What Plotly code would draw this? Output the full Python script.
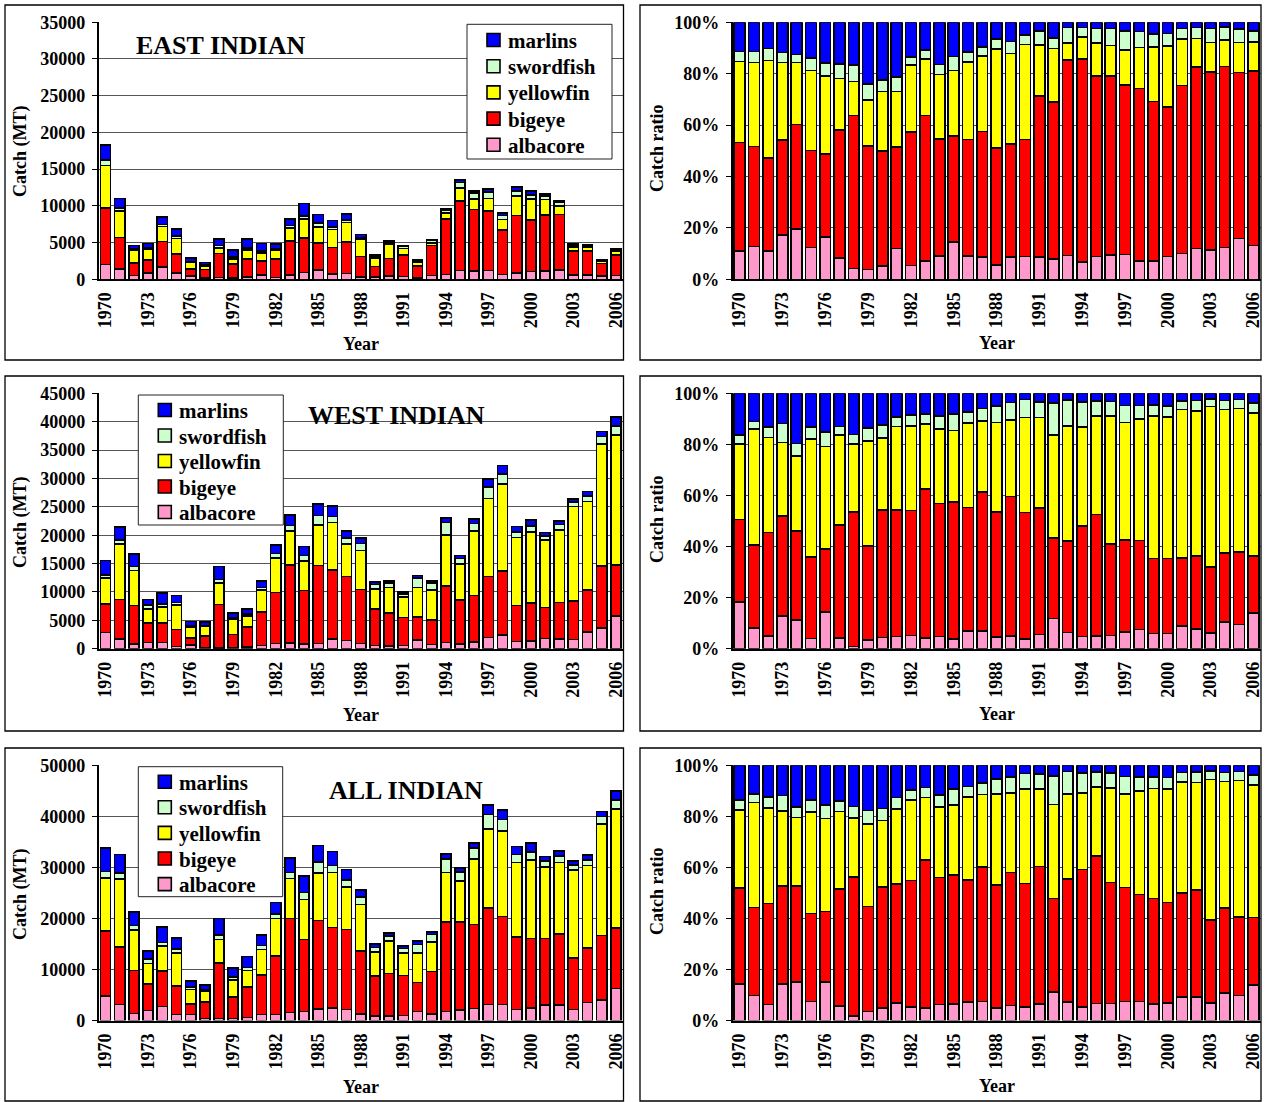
import numpy as np
import plotly.graph_objects as go

# ---------------------------------------------------------------- data (MT)
YEARS = list(range(1970, 2007))
YEAR_TICKS = list(range(1970, 2007, 3))

EAST_ALBACORE = [2010, 1400, 510, 850, 1660, 840, 480, 190, 230, 150, 290, 590, 260, 580, 930, 1280, 720, 780, 340,
                 290, 460, 400, 210, 500, 640, 1190, 1130, 1180, 650, 890, 1060, 1160, 1280, 550, 580, 420, 540]
EAST_BIGEYE = [7720, 4280, 1670, 1800, 3470, 2570, 940, 1140, 3270, 1930, 2450, 1930, 2480, 4640, 4700, 3630, 3630,
               4330, 2770, 1450, 2370, 2880, 1620, 4100, 7570, 9490, 8360, 8110, 6030, 7820, 6980, 7600, 7520, 3330,
               3300, 1710, 2790]
EAST_YELLOWFIN = [5760, 3590, 1740, 1480, 2050, 2120, 880, 460, 730, 720, 1280, 1060, 1250, 1800, 2590, 2250, 2420,
                  2620, 2340, 1160, 1920, 910, 550, 360, 820, 1710, 1430, 1690, 1440, 2670, 2860, 2080, 1180, 550,
                  490, 310, 460]
EAST_SWORDFISH = [730, 470, 220, 190, 260, 330, 150, 130, 360, 250, 240, 280, 150, 300, 400, 470, 310, 310, 240, 150,
                  190, 250, 110, 330, 360, 780, 790, 900, 550, 640, 580, 490, 450, 260, 230, 140, 180]
EAST_MARLINS = [2070, 1260, 470, 580, 1070, 950, 460, 370, 910, 960, 1240, 1040, 650, 880, 1690, 1180, 920, 850, 400,
                250, 260, 160, 160, 110, 200, 320, 290, 430, 330, 570, 530, 280, 220, 120, 90, 70, 140]

WEST_ALBACORE = [2840, 1760, 840, 1110, 1090, 370, 690, 200, 130, 210, 310, 570, 950, 1010, 850, 940, 1710, 1410, 900,
                 590, 460, 560, 1520, 750, 1100, 820, 1190, 1940, 2450, 1290, 1360, 1820, 1760, 1610, 2910, 3600, 5710]
WEST_BIGEYE = [5010, 6940, 6750, 3410, 3430, 3010, 1180, 2080, 7630, 2320, 3490, 5880, 8970, 13740, 9400, 13720,
               12170, 11300, 9560, 6380, 5880, 4960, 4080, 4260, 9960, 7790, 8160, 10790, 11240, 6300, 6650, 5470,
               6410, 6810, 7450, 10920, 9060]
WEST_YELLOWFIN = [4570, 9780, 6210, 2500, 2870, 4330, 1920, 1660, 3860, 2600, 1990, 3890, 6060, 6020, 5240, 7110,
                  8330, 5750, 6830, 3510, 4430, 3540, 5200, 5380, 8920, 6330, 11420, 13750, 15340, 12020, 12580, 11910,
                  12780, 16610, 15600, 21520, 22850]
WEST_SWORDFISH = [560, 620, 700, 650, 480, 440, 270, 160, 550, 310, 350, 460, 770, 920, 940, 1680, 1080, 1010, 1250,
                  800, 840, 610, 1630, 1200, 2250, 980, 1280, 1970, 1710, 900, 980, 680, 900, 790, 940, 1340, 1590]
WEST_MARLINS = [2530, 2390, 2200, 1030, 1930, 1250, 730, 610, 2330, 860, 870, 1090, 1560, 1910, 1580, 2040, 1810, 1220,
                980, 430, 290, 330, 480, 310, 760, 480, 750, 1440, 1550, 990, 1140, 620, 650, 580, 800, 920, 1590]

ALL_ALBACORE = [4850, 3160, 1350, 1960, 2750, 1210, 1170, 390, 360, 360, 600, 1160, 1210, 1590, 1780, 2220, 2430, 2190,
                1240, 880, 920, 960, 1730, 1250, 1740, 2010, 2320, 3120, 3100, 2180, 2420, 2980, 3040, 2160, 3490,
                4020, 6250]
ALL_BIGEYE = [12730, 11220, 8420, 5210, 6900, 5580, 2120, 3220, 10900, 4250, 5940, 7810, 11450, 18380, 14100, 17350,
              15800, 15630, 12330, 7830, 8250, 7840, 5700, 8360, 17530, 17280, 16520, 18900, 17270, 14120, 13630, 13070,
              13930, 10140, 10750, 12630, 11850]
ALL_YELLOWFIN = [10330, 13370, 7950, 3980, 4920, 6450, 2800, 2120, 4590, 3320, 3270, 4950, 7310, 7820, 7830, 9360,
                 10750, 8370, 9170, 4670, 6350, 4450, 5750, 5740, 9740, 8040, 12850, 15440, 16780, 14690, 15440, 13990,
                 13960, 17160, 16090, 21830, 23310]
ALL_SWORDFISH = [1290, 1090, 920, 840, 740, 770, 420, 290, 910, 560, 590, 740, 920, 1220, 1340, 2150, 1390, 1320, 1490,
                 950, 1030, 860, 1740, 1530, 2610, 1760, 2070, 2870, 2260, 1540, 1560, 1170, 1350, 1050, 1170, 1480,
                 1770]
ALL_MARLINS = [4600, 3650, 2670, 1610, 3000, 2200, 1190, 980, 3240, 1820, 2110, 2130, 2210, 2790, 3270, 3220, 2730,
               2070, 1380, 680, 550, 490, 640, 420, 960, 800, 1040, 1870, 1880, 1560, 1670, 900, 870, 700, 890, 990,
               1730]

SPECIES = ["albacore", "bigeye", "yellowfin", "swordfish", "marlins"]
COLORS = {"albacore": "#FF99CC", "bigeye": "#FF0000", "yellowfin": "#FFFF00",
          "swordfish": "#CCFFCC", "marlins": "#0000FF"}

REGIONS = [
    ("EAST INDIAN", [EAST_ALBACORE, EAST_BIGEYE, EAST_YELLOWFIN, EAST_SWORDFISH, EAST_MARLINS], 35000, 5000),
    ("WEST INDIAN", [WEST_ALBACORE, WEST_BIGEYE, WEST_YELLOWFIN, WEST_SWORDFISH, WEST_MARLINS], 45000, 5000),
    ("ALL INDIAN", [ALL_ALBACORE, ALL_BIGEYE, ALL_YELLOWFIN, ALL_SWORDFISH, ALL_MARLINS], 50000, 10000),
]

# ---------------------------------------------------------------- page geometry (pixels)
W, H = 1265, 1102
FONT = "Liberation Serif"


def fx(v):
    # pixel x -> paper fraction
    return min(max(v, 0.6), W - 0.6) / W


def fy(v):
    # pixel y (from top) -> paper fraction
    return 1 - min(max(v, 0.6), H - 0.6) / H


LEFT_DOM = [fx(98.5), fx(623)]
RIGHT_DOM = [fx(732.5), fx(1260.5)]
ROWS = [(22.2, 279.3), (393.3, 648.7), (765.3, 1020.5)]
ROW_SHIFT = [0, 371, 743]
FRAMES_Y = [(5, 360), (376, 731), (748, 1101)]
TITLE_POS = [(221, 45), (396, 415), (406, 790)]
# key box: left, top, right, bottom, square-left, first-row centre, row step
LEGEND_BOX = [(467, 24.3, 612, 159, 487, 40, 26.2),
              (138.3, 395, 283.3, 525, 158.3, 410, 25.5),
              (138.3, 766.7, 282.7, 896.7, 158.3, 781.7, 25.6)]

tick_font = dict(family=FONT, size=18, color="black", weight="bold")
label_font = dict(family=FONT, size=18, color="black", weight="bold")
legend_font = dict(family=FONT, size=21, color="black", weight="bold")

fig = go.Figure()
layout = dict(
    width=W, height=H, autosize=False,
    margin=dict(l=0, r=0, t=0, b=0, pad=0, autoexpand=False),
    paper_bgcolor="white", plot_bgcolor="white",
    barmode="stack", showlegend=False,
    annotations=[], shapes=[],
)

for r, (name, series, ymax, dtick) in enumerate(REGIONS):
    ia = 2 * r + 1
    ib = 2 * r + 2
    totals = np.sum(np.array(series, dtype=float), axis=0)
    for sp, vals in zip(SPECIES, series):
        fig.add_trace(go.Bar(
            x=YEARS, y=vals, name=sp,
            marker=dict(color=COLORS[sp], line=dict(color="black", width=1.6)),
            xaxis=f"x{ia}", yaxis=f"y{ia}", width=0.72,
        ))
        pct = np.array(vals, dtype=float) / totals * 100
        fig.add_trace(go.Bar(
            x=YEARS, y=pct, name=sp,
            marker=dict(color=COLORS[sp], line=dict(color="black", width=1.6)),
            xaxis=f"x{ib}", yaxis=f"y{ib}", width=0.76,
        ))

    top, bottom = ROWS[r]
    ydom = [fy(bottom), fy(top)]
    xcommon = dict(range=[1969.5, 2006.5], tickmode="array", tickvals=YEAR_TICKS,
                   ticktext=[str(y) for y in YEAR_TICKS], tickangle=-90, tickfont=tick_font,
                   showgrid=False, zeroline=False, showline=True, linecolor="black", linewidth=1.5,
                   ticks="", ticklabelstandoff=4, automargin=False)
    ycommon = dict(showgrid=True, gridcolor="#555555", gridwidth=1, zeroline=False,
                   showline=True, linecolor="black", linewidth=1.5, ticks="outside",
                   ticklen=5, tickcolor="black", tickwidth=1.2, tickfont=tick_font, ticklabelstandoff=3,
                   automargin=False)
    layout[f"xaxis{ia}"] = dict(domain=LEFT_DOM, anchor=f"y{ia}", **xcommon)
    layout[f"xaxis{ib}"] = dict(domain=RIGHT_DOM, anchor=f"y{ib}", **xcommon)
    layout[f"yaxis{ia}"] = dict(domain=ydom, anchor=f"x{ia}", range=[0, ymax], dtick=dtick,
                                tickformat="d", **ycommon)
    layout[f"yaxis{ib}"] = dict(domain=ydom, anchor=f"x{ib}", range=[0, 100], dtick=20,
                                ticksuffix="%", **ycommon)

    # panel frames
    fy0, fy1 = FRAMES_Y[r]
    for x0, x1 in [(5, 623.5), (640, 1261)]:
        layout["shapes"].append(dict(type="rect", xref="paper", yref="paper",
                                     x0=fx(x0), x1=fx(x1), y0=fy(fy1), y1=fy(fy0),
                                     line=dict(color="black", width=1.3)))

    # species key (top entry = top of the stack)
    bx0, by0, bx1, by1, sqx, cy0, step = LEGEND_BOX[r]
    layout["shapes"].append(dict(type="rect", xref="paper", yref="paper",
                                 x0=fx(bx0), x1=fx(bx1), y0=fy(by1), y1=fy(by0),
                                 fillcolor="white", line=dict(color="#222222", width=1)))
    for k, sp in enumerate(reversed(SPECIES)):
        cy = cy0 + k * step
        layout["shapes"].append(dict(type="rect", xref="paper", yref="paper",
                                     x0=fx(sqx), x1=fx(sqx + 13), y0=fy(cy + 6.5), y1=fy(cy - 6.5),
                                     fillcolor=COLORS[sp], line=dict(color="black", width=1.6)))
        layout["annotations"].append(dict(text=sp, x=fx(sqx + 19), y=fy(cy + 1), xref="paper", yref="paper",
                                          showarrow=False, xanchor="left", yanchor="middle",
                                          font=legend_font))

    # region title
    tx, ty = TITLE_POS[r]
    layout["annotations"].append(dict(text=name, x=fx(tx), y=fy(ty), xref="paper", yref="paper",
                                      showarrow=False, xanchor="center", yanchor="middle",
                                      font=dict(family=FONT, size=26, color="black", weight="bold")))
    # axis titles
    dy = ROW_SHIFT[r]
    for txt, x, y, ang in [("Year", 361, 344 + dy, 0), ("Year", 997, 343 + dy, 0),
                           ("Catch (MT)", 20, 152 + dy, -90), ("Catch ratio", 657, 149 + dy, -90)]:
        layout["annotations"].append(dict(text=txt, x=fx(x), y=fy(y), xref="paper", yref="paper",
                                          showarrow=False, xanchor="center", yanchor="middle",
                                          textangle=ang, font=label_font))

fig.update_layout(**layout)
fig.write_html("out.html")
